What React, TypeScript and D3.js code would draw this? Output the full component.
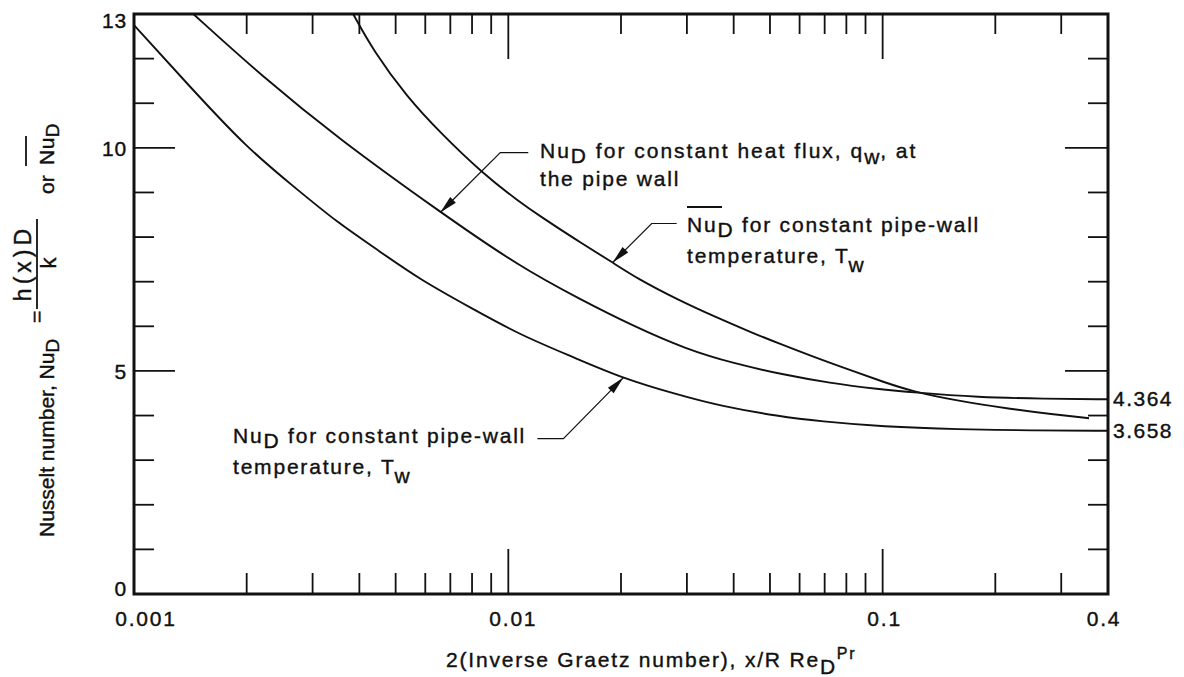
import React from "react";
import * as d3 from "d3";

// ---------- data ----------
const X_DOMAIN: [number, number] = [0.001, 0.4];
const Y_DOMAIN: [number, number] = [0, 13];

// local Nu_D, constant pipe-wall temperature
const xLocalT = [0.001, 0.0014, 0.002, 0.0027, 0.0035, 0.0045, 0.0058, 0.008, 0.0108, 0.015, 0.02, 0.028, 0.037, 0.053, 0.068, 0.1, 0.16, 0.25, 0.4];
const nuLocalT = [12.75, 11.4, 10.0, 9.1, 8.32, 7.7, 7.05, 6.4, 5.8, 5.3, 4.85, 4.48, 4.21, 3.98, 3.87, 3.75, 3.69, 3.665, 3.658];

// local Nu_D, constant heat flux
const xFlux = [0.00144, 0.0022, 0.0035, 0.0066, 0.0107, 0.0156, 0.0214, 0.03, 0.04, 0.054, 0.072, 0.098, 0.12, 0.18, 0.27, 0.4];
const nuFlux = [13.0, 11.6, 10.22, 8.55, 7.34, 6.6, 6.02, 5.48, 5.17, 4.92, 4.73, 4.59, 4.52, 4.41, 4.375, 4.364];

// mean Nu_D, constant pipe-wall temperature
const xMeanT = [0.00385, 0.00435, 0.00536, 0.00658, 0.0085, 0.0107, 0.0122, 0.0151, 0.019, 0.0221, 0.0283, 0.0355, 0.045, 0.053, 0.066, 0.083, 0.1, 0.12, 0.158, 0.223, 0.282, 0.356];
const nuMeanT = [13.0, 12.19, 11.14, 10.34, 9.44, 8.79, 8.46, 7.95, 7.43, 7.07, 6.6, 6.22, 5.85, 5.61, 5.3, 5.0, 4.76, 4.54, 4.33, 4.14, 4.03, 3.94];

const yTicksMinor = [1, 2, 3, 4, 6, 7, 8, 9, 11, 12];
const yTicksMajor = [5, 10];
const yTickLabels = [0, 5, 10, 13];
const xTicksMinor = [0.002, 0.003, 0.004, 0.005, 0.006, 0.007, 0.008, 0.009, 0.02, 0.03, 0.04, 0.05, 0.06, 0.07, 0.08, 0.09, 0.2, 0.3];
const xTicksMajor = [0.01, 0.1];
const xTickLabels = [0.001, 0.01, 0.1, 0.4];
const limitValues = [4.364, 3.658];

// ---------- styling ----------
const W = 1184, H = 677;
const PLOT = { left: 134, right: 1108, top: 14, bottom: 594 };
const INK = "#111";
const FONT = "'Liberation Sans', Arial, Helvetica, sans-serif";
const xLabelShift: Record<string, number> = { "0.001": 12, "0.01": 5, "0.1": 2, "0.4": -4 };

const zip = (xs: number[], ys: number[]) => xs.map((v, i) => [v, ys[i]] as [number, number]);

function arrowHead(tip: [number, number], from: [number, number], len = 18, half = 4) {
  const dx = tip[0] - from[0], dy = tip[1] - from[1];
  const L = Math.hypot(dx, dy);
  const ux = dx / L, uy = dy / L;
  const bx = tip[0] - ux * len, by = tip[1] - uy * len;
  const nx = -uy, ny = ux;
  return `M${tip[0]},${tip[1]}L${bx + nx * half},${by + ny * half}L${bx - nx * half},${by - ny * half}Z`;
}

export default function App() {
  const x = d3.scaleLog().domain(X_DOMAIN).range([PLOT.left, PLOT.right]);
  const y = d3.scaleLinear().domain(Y_DOMAIN).range([PLOT.bottom, PLOT.top]);
  const line = d3
    .line<[number, number]>()
    .x((d) => x(d[0]))
    .y((d) => y(d[1]))
    .curve(d3.curveBasis);

  const curves = [zip(xLocalT, nuLocalT), zip(xFlux, nuFlux), zip(xMeanT, nuMeanT)];

  // annotation leaders: tip on a curve (data coords), elbow & tail offsets in px
  const leaders = [
    { tip: [0.00658, 8.55], elbow: [60, -60], tail: 28 },
    { tip: [0.019, 7.43], elbow: [39, -39], tail: 25 },
    { tip: [0.0203, 4.85], elbow: [-60, 61], tail: -26 },
  ].map((a) => {
    const t: [number, number] = [x(a.tip[0]), y(a.tip[1])];
    const e: [number, number] = [t[0] + a.elbow[0], t[1] + a.elbow[1]];
    return { t, e, end: [e[0] + a.tail, e[1]] as [number, number] };
  });

  const txt = {
    fontFamily: FONT,
    fontSize: 21,
    letterSpacing: "1.8px",
    fill: INK,
    stroke: INK,
    strokeWidth: 0.4,
  } as React.CSSProperties;

  return (
    <svg width={W} height={H} style={{ position: "absolute", left: 0, top: 0, background: "#fff" }}>
      <rect x={0} y={0} width={W} height={H} fill="#fff" />

      {/* curves */}
      {curves.map((c, i) => (
        <path key={i} d={line(c) || ""} fill="none" stroke={INK} strokeWidth={1.9} />
      ))}

      {/* ticks */}
      <g stroke={INK} strokeWidth={1.8}>
        {yTicksMinor.map((v) => (
          <g key={"ym" + v}>
            <line x1={PLOT.left} x2={PLOT.left + 20} y1={y(v)} y2={y(v)} />
            <line x1={PLOT.right} x2={PLOT.right - 20} y1={y(v)} y2={y(v)} />
          </g>
        ))}
        {yTicksMajor.map((v) => (
          <g key={"yM" + v}>
            <line x1={PLOT.left} x2={PLOT.left + 41} y1={y(v)} y2={y(v)} />
            <line x1={PLOT.right} x2={PLOT.right - 43} y1={y(v)} y2={y(v)} />
          </g>
        ))}
        {xTicksMinor.map((v) => (
          <g key={"xm" + v}>
            <line x1={x(v)} x2={x(v)} y1={PLOT.bottom} y2={PLOT.bottom - 21} />
            <line x1={x(v)} x2={x(v)} y1={PLOT.top} y2={PLOT.top + 20} />
          </g>
        ))}
        {xTicksMajor.map((v) => (
          <g key={"xM" + v}>
            <line x1={x(v)} x2={x(v)} y1={PLOT.bottom} y2={PLOT.bottom - 45} />
            <line x1={x(v)} x2={x(v)} y1={PLOT.top} y2={PLOT.top + 45} />
          </g>
        ))}
      </g>

      {/* frame */}
      <rect
        x={PLOT.left}
        y={PLOT.top}
        width={PLOT.right - PLOT.left}
        height={PLOT.bottom - PLOT.top}
        fill="none"
        stroke={INK}
        strokeWidth={3}
      />

      {/* y tick labels */}
      {yTickLabels.map((v) => (
        <text
          key={"yl" + v}
          x={127}
          y={v === 13 ? y(v) + 14 : v === 0 ? y(v) + 2 : y(v) + 8}
          textAnchor="end"
          style={{ ...txt, letterSpacing: "0.8px" }}
        >
          {v}
        </text>
      ))}

      {/* x tick labels */}
      {xTickLabels.map((v) => (
        <text key={"xl" + v} x={x(v) + (xLabelShift[String(v)] || 0)} y={626} textAnchor="middle" style={txt}>
          {String(v)}
        </text>
      ))}

      {/* asymptotic limits on the right */}
      {limitValues.map((v) => (
        <text key={"lim" + v} x={PLOT.right + 5} y={y(v) + 7} style={{ ...txt, letterSpacing: "1.5px" }}>
          {v.toFixed(3)}
        </text>
      ))}

      {/* x axis title */}
      <text x={446} y={667} style={txt}>
        2(Inverse Graetz number), x/R Re
        <tspan dy={7}>D</tspan>
        <tspan dy={-15} fontSize={16}>Pr</tspan>
      </text>

      {/* y axis title (rotated) */}
      <g
        transform="translate(0,537) rotate(-90)"
        style={{ fontFamily: FONT, fill: INK, stroke: INK, strokeWidth: 0.4 }}
      >
        <text x={0} y={54} fontSize={21}>
          Nusselt number, Nu<tspan dy={5} fontSize={19}>D</tspan>
        </text>
        <text x={214} y={44} fontSize={21}>=</text>
        <text x={274} y={31} fontSize={23} textAnchor="middle" style={{ letterSpacing: "4px" }}>
          h(x)D
        </text>
        <line x1={228} x2={318} y1={37} y2={37} stroke={INK} strokeWidth={1.8} />
        <text x={274} y={56} fontSize={22} textAnchor="middle">k</text>
        <text x={343} y={54} fontSize={21}>or</text>
        <text x={372} y={54} fontSize={21} style={{ letterSpacing: "0.5px" }}>
          Nu<tspan dy={5} fontSize={19}>D</tspan>
        </text>
        <line x1={371} x2={401} y1={26} y2={26} stroke={INK} strokeWidth={1.8} />
      </g>

      {/* annotation leaders */}
      {leaders.map((l, i) => (
        <g key={"ld" + i}>
          <polyline
            points={`${l.t[0]},${l.t[1]} ${l.e[0]},${l.e[1]} ${l.end[0]},${l.end[1]}`}
            fill="none"
            stroke={INK}
            strokeWidth={1.2}
          />
          <path d={arrowHead(l.t, l.e)} fill={INK} />
        </g>
      ))}

      {/* annotation texts */}
      <text x={540} y={158} style={{ ...txt, letterSpacing: "2.0px" }}>
        Nu<tspan dy={5}>D</tspan>
        <tspan dy={-5}> for constant heat flux, q</tspan>
        <tspan dy={6}>w</tspan>
        <tspan dy={-6}>, at</tspan>
      </text>
      <text x={540} y={186} style={txt}>the pipe wall</text>

      <text x={687} y={232} style={txt}>
        Nu<tspan dy={5}>D</tspan>
        <tspan dy={-5}> for constant pipe-wall</tspan>
      </text>
      <line x1={687} x2={722} y1={207} y2={207} stroke={INK} strokeWidth={2} />
      <text x={687} y={263} style={txt}>
        temperature, T<tspan dy={9}>w</tspan>
      </text>

      <text x={233} y={443} style={txt}>
        Nu<tspan dy={5}>D</tspan>
        <tspan dy={-5}> for constant pipe-wall</tspan>
      </text>
      <text x={233} y={474} style={txt}>
        temperature, T<tspan dy={9}>w</tspan>
      </text>
    </svg>
  );
}
